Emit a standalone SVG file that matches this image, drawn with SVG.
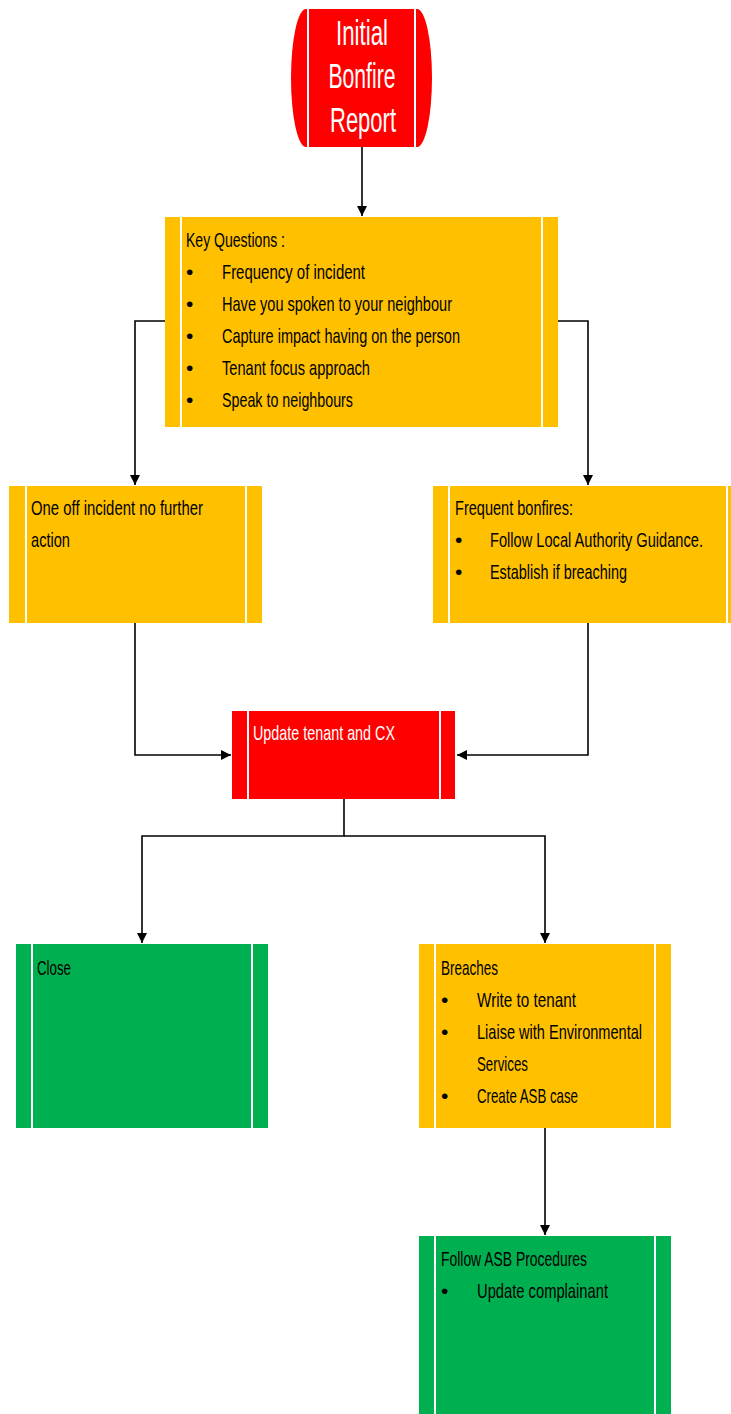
<svg xmlns="http://www.w3.org/2000/svg" width="731" height="1414" viewBox="0 0 731 1414">
  <defs>
    <marker id="arrow" markerUnits="userSpaceOnUse" markerWidth="11" markerHeight="10" refX="10" refY="5" orient="auto">
      <path d="M0,0 L10,5 L0,10 z" fill="#000"/>
    </marker>
    <style>
      .red { fill: #FF0000; }
      .amber { fill: #FFC000; }
      .green { fill: #00B050; }
      .rule { stroke: #FFFFFF; stroke-width: 2; fill: none; }
      .link { stroke: #000; stroke-width: 1.6; fill: none; marker-end: url(#arrow); }
      text { font-family: "Liberation Sans Narrow", "Liberation Sans", Arial, sans-serif; font-size: 21px; fill: #000; }
      .title { font-size: 35px; fill: #FFFFFF; text-anchor: middle; }
      .light { fill: #FFFFFF; }
    </style>
  </defs>

  <rect width="731" height="1414" fill="#FFFFFF"/>

  <!-- connectors -->
  <g id="connectors">
    <path class="link" d="M362,147 L362,216"/>
    <path class="link" d="M165,321 L135,321 L135,485"/>
    <path class="link" d="M558,321 L588,321 L588,485"/>
    <path class="link" d="M135,623 L135,755 L231,755"/>
    <path class="link" d="M588,623 L588,755 L457,755"/>
    <path class="link" d="M344,799 L344,836 L142,836 L142,943"/>
    <path class="link" d="M344,836 L545,836 L545,943"/>
    <path class="link" d="M545,1128 L545,1235"/>
  </g>

  <!-- start node -->
  <g id="initial-report">
    <path class="red" d="M306,9 L417,9 A15,69 0 0 1 417,147 L306,147 A15,69 0 0 1 306,9 Z"/>
    <line class="rule" x1="308" y1="9" x2="308" y2="147"/>
    <line class="rule" x1="415" y1="9" x2="415" y2="147"/>
    <text class="title" x="362" y="45" textLength="52" lengthAdjust="spacingAndGlyphs">Initial</text>
    <text class="title" x="362" y="88" textLength="67" lengthAdjust="spacingAndGlyphs">Bonfire</text>
    <text class="title" x="363" y="132" textLength="66" lengthAdjust="spacingAndGlyphs">Report</text>
  </g>

  <!-- key questions -->
  <g id="key-questions">
    <rect class="amber" x="165" y="217" width="393" height="210"/>
    <line class="rule" x1="181" y1="217" x2="181" y2="427"/>
    <line class="rule" x1="542" y1="217" x2="542" y2="427"/>
    <text x="186" y="247" textLength="99" lengthAdjust="spacingAndGlyphs">Key Questions :</text>
    <text x="186" y="279">•</text>
    <text x="222" y="279" textLength="143" lengthAdjust="spacingAndGlyphs">Frequency  of incident</text>
    <text x="186" y="311">•</text>
    <text x="222" y="311" textLength="230" lengthAdjust="spacingAndGlyphs">Have you spoken to your neighbour</text>
    <text x="186" y="343">•</text>
    <text x="222" y="343" textLength="238" lengthAdjust="spacingAndGlyphs">Capture impact having on the person</text>
    <text x="186" y="375">•</text>
    <text x="222" y="375" textLength="148" lengthAdjust="spacingAndGlyphs">Tenant focus approach</text>
    <text x="186" y="407">•</text>
    <text x="222" y="407" textLength="131" lengthAdjust="spacingAndGlyphs">Speak to neighbours</text>
  </g>

  <!-- one-off incident -->
  <g id="one-off">
    <rect class="amber" x="9" y="486" width="253" height="137"/>
    <line class="rule" x1="26" y1="486" x2="26" y2="623"/>
    <line class="rule" x1="246" y1="486" x2="246" y2="623"/>
    <text x="31" y="515" textLength="172" lengthAdjust="spacingAndGlyphs">One off incident no further</text>
    <text x="31" y="547" textLength="39" lengthAdjust="spacingAndGlyphs">action</text>
  </g>

  <!-- frequent bonfires (runs to the right edge) -->
  <g id="frequent">
    <rect class="amber" x="433" y="486" width="298" height="137"/>
    <line class="rule" x1="449" y1="486" x2="449" y2="623"/>
    <line class="rule" x1="727" y1="486" x2="727" y2="623"/>
    <text x="455" y="515" textLength="118" lengthAdjust="spacingAndGlyphs">Frequent bonfires:</text>
    <text x="455" y="547">•</text>
    <text x="490" y="547" textLength="213" lengthAdjust="spacingAndGlyphs">Follow Local Authority Guidance.</text>
    <text x="455" y="579">•</text>
    <text x="490" y="579" textLength="137" lengthAdjust="spacingAndGlyphs">Establish if breaching</text>
  </g>

  <!-- update tenant -->
  <g id="update-tenant">
    <rect class="red" x="232" y="711" width="223" height="88"/>
    <line class="rule" x1="248" y1="711" x2="248" y2="799"/>
    <line class="rule" x1="440" y1="711" x2="440" y2="799"/>
    <text class="light" x="253" y="740" textLength="142" lengthAdjust="spacingAndGlyphs">Update tenant and CX</text>
  </g>

  <!-- close -->
  <g id="close">
    <rect class="green" x="16" y="944" width="252" height="184"/>
    <line class="rule" x1="32" y1="944" x2="32" y2="1128"/>
    <line class="rule" x1="252" y1="944" x2="252" y2="1128"/>
    <text x="37" y="975" textLength="34" lengthAdjust="spacingAndGlyphs">Close</text>
  </g>

  <!-- breaches -->
  <g id="breaches">
    <rect class="amber" x="419" y="944" width="252" height="184"/>
    <line class="rule" x1="435" y1="944" x2="435" y2="1128"/>
    <line class="rule" x1="655" y1="944" x2="655" y2="1128"/>
    <text x="441" y="975" textLength="57" lengthAdjust="spacingAndGlyphs">Breaches</text>
    <text x="441" y="1007">•</text>
    <text x="477" y="1007" textLength="99" lengthAdjust="spacingAndGlyphs">Write to tenant</text>
    <text x="441" y="1039">•</text>
    <text x="477" y="1039" textLength="165" lengthAdjust="spacingAndGlyphs">Liaise with Environmental</text>
    <text x="477" y="1071" textLength="51" lengthAdjust="spacingAndGlyphs">Services</text>
    <text x="441" y="1103">•</text>
    <text x="477" y="1103" textLength="101" lengthAdjust="spacingAndGlyphs">Create ASB case</text>
  </g>

  <!-- ASB procedures (runs to the bottom edge) -->
  <g id="asb-procedures">
    <rect class="green" x="419" y="1236" width="252" height="178"/>
    <line class="rule" x1="435" y1="1236" x2="435" y2="1414"/>
    <line class="rule" x1="655" y1="1236" x2="655" y2="1414"/>
    <text x="441" y="1266" textLength="146" lengthAdjust="spacingAndGlyphs">Follow ASB Procedures</text>
    <text x="441" y="1298">•</text>
    <text x="477" y="1298" textLength="131" lengthAdjust="spacingAndGlyphs">Update complainant</text>
  </g>
</svg>
